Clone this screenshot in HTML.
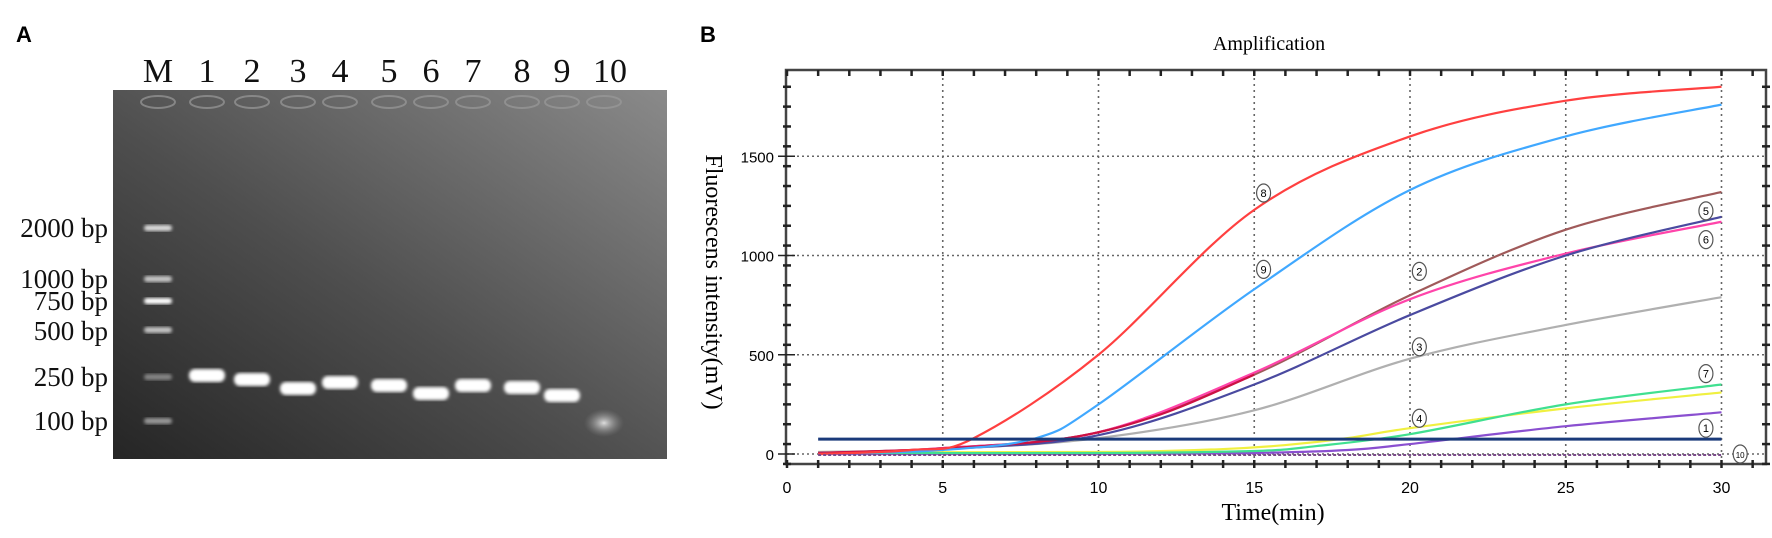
<!DOCTYPE html>
<html><head><meta charset="utf-8">
<style>
html,body{margin:0;padding:0;background:#fff;}
body{width:1772px;height:533px;overflow:hidden;position:relative;}
</style></head>
<body>
<svg id="s" width="1772" height="533" viewBox="0 0 1772 533" xmlns="http://www.w3.org/2000/svg">
<defs>
<linearGradient id="gel" x1="0" y1="1" x2="1" y2="0">
<stop offset="0" stop-color="#252525"/>
<stop offset="0.45" stop-color="#4e4e4e"/>
<stop offset="1" stop-color="#8a8a8a"/>
</linearGradient>
<radialGradient id="blob"><stop offset="0" stop-color="#ddd"/><stop offset="1" stop-color="#888" stop-opacity="0"/></radialGradient>
<filter id="bl"><feGaussianBlur stdDeviation="1.6"/></filter>
</defs>
<text x="16" y="42" font-family="Liberation Sans" font-weight="bold" font-size="22">A</text>
<text x="700" y="42" font-family="Liberation Sans" font-weight="bold" font-size="22">B</text>
<rect x="113" y="90" width="554" height="369" fill="url(#gel)"/>
<g id="gelg"></g>
<g font-family="Liberation Serif" font-size="34" text-anchor="middle" fill="#111">
<text x="158" y="82">M</text><text x="207" y="82">1</text><text x="252" y="82">2</text><text x="298" y="82">3</text><text x="340" y="82">4</text><text x="389" y="82">5</text><text x="431" y="82">6</text><text x="473" y="82">7</text><text x="522" y="82">8</text><text x="562" y="82">9</text><text x="610" y="82">10</text>
</g>
<g font-family="Liberation Serif" font-size="27" text-anchor="end" fill="#111">
<text x="108" y="237">2000 bp</text><text x="108" y="288">1000 bp</text><text x="108" y="310">750 bp</text><text x="108" y="340">500 bp</text><text x="108" y="386">250 bp</text><text x="108" y="430">100 bp</text>
</g>
<text x="1269" y="50" font-family="Liberation Serif" font-size="20" text-anchor="middle">Amplification</text>
<g id="plot"></g>
<text x="1273" y="520" font-family="Liberation Serif" font-size="24" text-anchor="middle">Time(min)</text>
<text transform="translate(706,282) rotate(90)" font-family="Liberation Serif" font-size="24" text-anchor="middle">Fluorescens intensity(mV)</text>
</svg>
<script>
var NS="http://www.w3.org/2000/svg";
function el(p,t,a){var e=document.createElementNS(NS,t);for(var k in a)e.setAttribute(k,a[k]);p.appendChild(e);return e;}
var g=document.getElementById('gelg');
var lanes=[158,207,252,298,340,389,431,473,522,562,604];
lanes.forEach(function(x,i){el(g,'ellipse',{cx:x,cy:102,rx:17,ry:6,fill:'none',stroke:'#9a9a9a','stroke-width':2,opacity:0.7});});
[[228,.8],[279,.7],[301,1],[330,.7],[377,.4],[421,.5]].forEach(function(b){el(g,'rect',{x:144,y:b[0]-3,width:28,height:6,rx:3,fill:'#fff',opacity:b[1],filter:'url(#bl)'});});
var bands=[375,379,388,382,385,393,385,387,395];
bands.forEach(function(y,i){el(g,'rect',{x:lanes[i+1]-18,y:y-6,width:36,height:13,rx:6,fill:'#fff',filter:'url(#bl)'});});
el(g,'ellipse',{cx:604,cy:423,rx:20,ry:14,fill:'url(#blob)'});
var p=document.getElementById('plot');
function X(t){return 787+t*31.15;}function Y(v){return 454-v*0.1985;}
for(var t=5;t<=30;t+=5)el(p,'line',{x1:X(t),y1:72,x2:X(t),y2:463,stroke:'#666','stroke-dasharray':'2,4','stroke-width':1.6});
[0,500,1000,1500].forEach(function(v){el(p,'line',{x1:787,y1:Y(v),x2:1765,y2:Y(v),stroke:'#666','stroke-dasharray':'2,3','stroke-width':1.6});});
el(p,'rect',{x:786,y:70,width:980,height:394,fill:'none',stroke:'#444','stroke-width':2.5});
for(var t=0;t<=31;t++){el(p,'line',{x1:X(t),y1:460,x2:X(t),y2:468,stroke:'#222','stroke-width':2.5});el(p,'line',{x1:X(t),y1:70,x2:X(t),y2:76,stroke:'#222','stroke-width':2.5});}
for(var v=-50;v<=1900;v+=100){el(p,'line',{x1:783,y1:Y(v),x2:791,y2:Y(v),stroke:'#222','stroke-width':2.5});el(p,'line',{x1:1762,y1:Y(v),x2:1770,y2:Y(v),stroke:'#222','stroke-width':2.5});}
[0,500,1000,1500].forEach(function(v){el(p,'line',{x1:778,y1:Y(v),x2:795,y2:Y(v),stroke:'#222','stroke-width':1.5});var tx=el(p,'text',{x:774,y:Y(v)+6,'font-family':'Liberation Sans','font-size':15,'text-anchor':'end'});tx.textContent=v;});
for(var t=0;t<=30;t+=5){var tx=el(p,'text',{x:X(t),y:493,'font-family':'Liberation Sans','font-size':16,'text-anchor':'middle'});tx.textContent=t;}
function cr(pts){var s='M'+X(pts[0][0])+','+Y(pts[0][1]);var P=pts.map(function(q){return [X(q[0]),Y(q[1])];});
for(var i=0;i<P.length-1;i++){var p0=P[i-1]||P[i],p1=P[i],p2=P[i+1],p3=P[i+2]||P[i+1];
s+=' C'+(p1[0]+(p2[0]-p0[0])/6)+','+(p1[1]+(p2[1]-p0[1])/6)+' '+(p2[0]-(p3[0]-p1[0])/6)+','+(p2[1]-(p3[1]-p1[1])/6)+' '+p2[0]+','+p2[1];}return s;}
var curves=[
['#8a4fd0',[[1,0],[10,0],[15,5],[18,20],[20,50],[25,140],[30,210]]],
['#f0f040',[[1,10],[10,10],[14,25],[16,45],[18,80],[20,130],[25,230],[30,310]]],
['#40e090',[[1,5],[10,5],[15,15],[17,40],[20,100],[25,250],[30,350]]],
['#b0b0b0',[[1,10],[5,25],[10,80],[15,220],[20,480],[25,650],[30,790]]],
['#a05a5a',[[1,5],[5,30],[10,110],[15,400],[20,800],[25,1130],[30,1320]]],
['#ff44aa',[[1,5],[5,30],[10,110],[15,410],[20,780],[25,1010],[30,1170]]],
['#4a4aa0',[[1,5],[5,25],[10,95],[15,350],[20,700],[25,1000],[30,1195]]],
['#cc1144',[[1,5],[5,28],[9,80],[12,200],[15,400]]],
['#40a8ff',[[1,0],[5,20],[8,80],[10,250],[15,830],[20,1330],[25,1600],[30,1760]]],
['#ff4040',[[1,0],[4,20],[6,80],[10,500],[15,1230],[20,1600],[25,1780],[30,1850]]]
];
curves.forEach(function(c){el(p,'path',{d:cr(c[1]),fill:'none',stroke:c[0],'stroke-width':2.2});});
el(p,'line',{x1:X(1),y1:Y(-5),x2:X(30),y2:Y(-5),stroke:'#7a4a8a','stroke-width':2,'stroke-dasharray':'3,2'});
el(p,'line',{x1:X(1),y1:Y(75),x2:X(30),y2:Y(75),stroke:'#1a3a7a','stroke-width':3});
[['8',15.3,1315],['9',15.3,930],['2',20.3,920],['5',29.5,1225],['6',29.5,1080],['3',20.3,540],['7',29.5,405],['4',20.3,180],['1',29.5,130],['10',30.6,0]].forEach(function(l){
el(p,'ellipse',{cx:X(l[1]),cy:Y(l[2]),rx:7,ry:9,fill:'#fff',stroke:'#555','stroke-width':1.2});
var tx=el(p,'text',{x:X(l[1]),y:Y(l[2])+4,'font-family':'Liberation Sans','font-size':l[0].length>1?8:11,'text-anchor':'middle'});tx.textContent=l[0];});
</script>
</body></html>
